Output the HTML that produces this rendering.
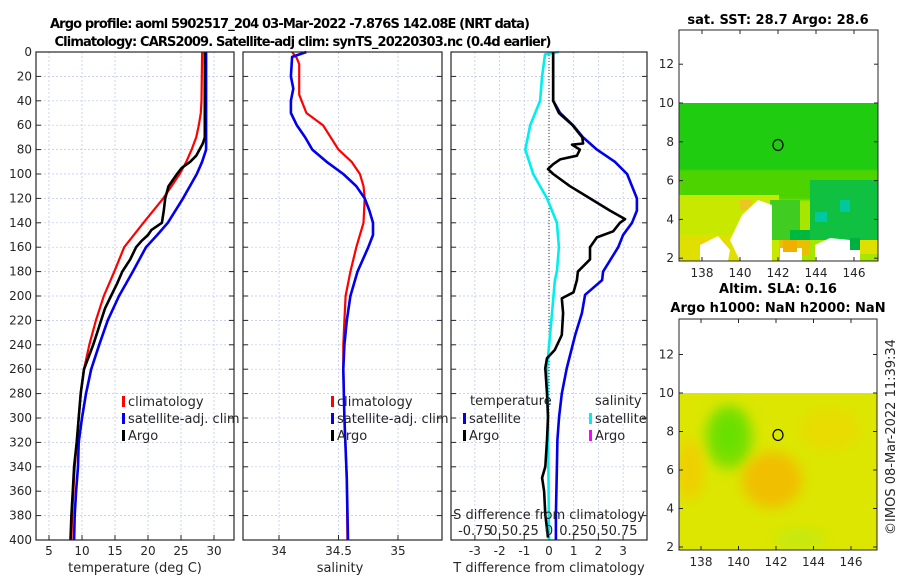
<!DOCTYPE html>
<html><head><meta charset="utf-8">
<style>
html,body{margin:0;padding:0;background:#fff;}
svg{display:block;font-family:"DejaVu Sans","Liberation Sans",sans-serif;}
.tk{font-size:12px;fill:#262626;}
.ttl{font-size:13px;font-weight:bold;fill:#000;}
.lab{font-size:13px;fill:#262626;}
</style></head>
<body>
<svg id="chart" width="900" height="580" viewBox="0 0 900 580" xmlns="http://www.w3.org/2000/svg">
<defs>
<filter id="blur4" x="-20%" y="-20%" width="140%" height="140%"><feGaussianBlur stdDeviation="6"/></filter>
<filter id="blur2"><feGaussianBlur stdDeviation="1"/></filter>
<clipPath id="clipTop"><rect x="679" y="103" width="199" height="158"/></clipPath>
<clipPath id="clipBot"><rect x="679" y="393" width="198" height="157"/></clipPath>
</defs>
<text class="ttl" x="290" y="28" text-anchor="middle" textLength="480">Argo profile: aoml 5902517_204 03-Mar-2022 -7.876S 142.08E (NRT data)</text>
<text class="ttl" x="303" y="46" text-anchor="middle" textLength="497">Climatology: CARS2009. Satellite-adj clim: synTS_20220303.nc (0.4d earlier)</text>
<g id="panels"></g>
<g id="maps">
 <!-- top SST map -->
 <g>
  <text class="ttl" x="778" y="24" text-anchor="middle">sat. SST: 28.7 Argo: 28.6</text>
  <g clip-path="url(#clipTop)">
   <rect x="679" y="103" width="199" height="158" fill="#a6e600"/>
   <rect x="679" y="103" width="199" height="80" fill="#1fcc10"/>
   <rect x="679" y="170" width="199" height="30" fill="#4ed400" filter="url(#blur2)"/>
   <rect x="679" y="195" width="100" height="66" fill="#c8e800"/>
   <rect x="679" y="235" width="60" height="26" fill="#e0e000"/>
   <rect x="810" y="180" width="68" height="60" fill="#10c040"/>
   <rect x="840" y="200" width="10" height="12" fill="#00c8a0"/>
   <rect x="815" y="212" width="12" height="10" fill="#00c8a0"/>
   <rect x="770" y="200" width="30" height="40" fill="#40cc20"/>
   <rect x="790" y="230" width="20" height="15" fill="#00b840"/>
   <rect x="780" y="240" width="30" height="15" fill="#e8c000"/>
   <rect x="700" y="240" width="25" height="18" fill="#f0d000"/>
   <rect x="740" y="200" width="12" height="10" fill="#e8c820"/>
   <polygon points="742,215 758,200 772,205 772,261 740,261 730,240" fill="#fff"/>
   <polygon points="700,245 718,236 730,250 728,261 700,261" fill="#fff"/>
   <polygon points="815,245 830,238 850,240 860,250 860,261 815,261" fill="#fff"/>
   <rect x="850" y="238" width="10" height="12" fill="#00b040"/>
   <rect x="860" y="240" width="18" height="14" fill="#e0e000"/>
   <rect x="780" y="248" width="22" height="13" fill="#fff"/>
   <rect x="783" y="240" width="14" height="12" fill="#f0b000"/>
  </g>
  <rect x="679" y="30" width="199" height="231" fill="none" stroke="#262626" stroke-width="1"/>
  <ellipse cx="778" cy="145" rx="5" ry="5.5" fill="none" stroke="#000" stroke-width="1.2"/>
  <g id="topMapTicks"></g>
 </g>
 <!-- bottom SLA map -->
 <g>
  <text class="ttl" x="778" y="293" text-anchor="middle">Altim. SLA: 0.16</text>
  <text class="ttl" x="778" y="312" text-anchor="middle">Argo h1000: NaN h2000: NaN</text>
  <g clip-path="url(#clipBot)">
   <rect x="679" y="393" width="198" height="157" fill="#dce600"/>
   <ellipse cx="729" cy="437" rx="24" ry="32" fill="#7ee000" filter="url(#blur4)"/>
   <ellipse cx="729" cy="435" rx="12" ry="18" fill="#66e000" filter="url(#blur4)"/>
   <ellipse cx="772" cy="480" rx="30" ry="28" fill="#f0c000" filter="url(#blur4)"/>
   <ellipse cx="690" cy="470" rx="14" ry="30" fill="#eed000" filter="url(#blur4)"/>
   <ellipse cx="830" cy="430" rx="30" ry="20" fill="#e8dc00" filter="url(#blur4)"/>
   <ellipse cx="800" cy="540" rx="25" ry="12" fill="#c8e810" filter="url(#blur4)"/>
  </g>
  <rect x="679" y="319" width="198" height="231" fill="none" stroke="#262626" stroke-width="1"/>
  <ellipse cx="778" cy="435" rx="5" ry="5.5" fill="none" stroke="#000" stroke-width="1.2"/>
  <g id="botMapTicks"></g>
 </g>
 <text class="lab" transform="translate(895,437) rotate(-90)" text-anchor="middle">©IMOS 08-Mar-2022 11:39:34</text>
</g>
</svg>
<script>
// ---- data ----
const tempDepth = [0,40,50,60,70,80,90,100,120,140,160,180,200,220,240,260,280,300,320,340,360,380,400];
const tempClim  = [28.2,28.1,28.0,27.7,27.3,26.6,25.8,24.8,22.3,19.3,16.4,14.9,13.3,12.1,11.1,10.3,9.8,9.5,9.2,8.9,8.7,8.5,8.4];
const tempSatDepth = [0,80,90,100,120,140,150,160,180,200,220,240,260,280,300,320,340,360,380,400];
const tempSat   = [28.8,28.8,28.2,27.4,25.3,23.0,21.4,19.7,17.7,15.6,13.9,12.6,11.4,10.6,10.0,9.5,9.4,9.1,8.9,8.8];
const argoDepth = [0,70,75,80,85,90,95,100,110,120,130,140,146,150,155,160,170,180,190,200,210,220,230,240,250,260,280,300,320,340,360,380,400];
const argoTemp  = [28.6,28.6,28.3,27.8,27.3,26.4,25.1,24.4,23.1,22.6,22.4,22.1,20.5,20.0,19.0,18.2,17.3,16.1,15.3,14.4,13.5,12.9,12.3,11.7,11.0,10.3,9.8,9.5,9.2,8.8,8.6,8.4,8.25];

const salDepth  = [0,5,10,35,40,50,60,80,90,100,110,120,140,160,180,200,220,240,260,300,350,400];
const salClim   = [34.11,34.15,34.17,34.17,34.19,34.23,34.37,34.50,34.61,34.68,34.71,34.72,34.71,34.65,34.60,34.56,34.55,34.54,34.54,34.55,34.57,34.575];
const salSatDepth = [0,4,20,30,40,50,60,70,80,90,100,110,120,130,140,150,160,180,200,220,240,260,300,350,400];
const salSat    = [34.23,34.11,34.10,34.12,34.10,34.10,34.15,34.22,34.28,34.40,34.54,34.65,34.72,34.76,34.79,34.79,34.75,34.66,34.60,34.57,34.55,34.54,34.55,34.57,34.58];

const tdSatDepth = [0,40,50,60,70,80,90,100,120,130,140,150,160,180,187,199,214,232,259,280,299,318,340,379,400];
const tdSat      = [0.17,0.17,0.45,0.97,1.38,1.94,2.67,3.16,3.56,3.56,3.36,3.0,2.8,2.19,2.15,1.46,1.33,1.06,0.72,0.52,0.41,0.34,0.32,0.28,0.28];
const tdArgoDepth = [0,40,50,60,70,75,76,80,85,88,92,96,100,110,120,130,137,140,147,152,160,170,180,187,197,202,214,232,244,251,259,280,299,318,340,349,360,379,398];
const tdArgo      = [0.17,0.17,0.4,0.95,1.35,1.38,0.93,1.25,1.13,0.45,0.17,-0.04,0.17,0.85,1.66,2.47,3.08,2.87,2.6,1.94,1.66,1.66,1.17,1.13,0.99,0.52,0.57,0.52,0.24,-0.08,-0.15,-0.08,-0.04,-0.08,-0.15,-0.28,-0.2,-0.15,-0.04];
const sdDepth = [0,2,20,40,60,80,100,120,140,160,180,187,214,259,300,400];
const sdSat   = [0.10,-0.04,-0.07,-0.09,-0.19,-0.24,-0.16,-0.02,0.08,0.10,0.08,0.06,0.03,-0.02,-0.01,0.0];

const depthTicks = [0,20,40,60,80,100,120,140,160,180,200,220,240,260,280,300,320,340,360,380,400];
const tempTicks = [5,10,15,20,25,30];
const salTicks = [34,34.5,35];
const tdTicks = [-3,-2,-1,0,1,2,3];
const sdTickLabels = ['-0.75','0.5','0.25','0','0.25','0.5','0.75'];
const sdTickVals = [-0.75,-0.5,-0.25,0,0.25,0.5,0.75];
const lonTicks = [138,140,142,144,146];
const latTicks = [2,4,6,8,10,12];

// ---- helpers ----
const NS='http://www.w3.org/2000/svg';
const root=document.getElementById('panels');
function mk(tag,attrs,parent){const e=document.createElementNS(NS,tag);for(const k in attrs)e.setAttribute(k,attrs[k]);(parent||root).appendChild(e);return e;}
const Y0=52,Y1=540;
const yD=d=>Y0+(Y1-Y0)*d/400;

function panel(name,x0,x1,xScale,xt,xtLabels,showY){
  const g=mk('g',{});
  
  
  depthTicks.forEach(d=>{
    const l=mk('line',{x1:x0,x2:x1,y1:yD(d),y2:yD(d),stroke:'#b8c4ec','stroke-width':0.7,'stroke-dasharray':'2,2'},g);
    
    
    mk('line',{x1:x0,x2:x0+5,y1:yD(d),y2:yD(d),stroke:'#262626'},g);
    mk('line',{x1:x1-5,x2:x1,y1:yD(d),y2:yD(d),stroke:'#262626'},g);
    if(showY){const t=mk('text',{x:x0-4,y:yD(d)+4,'text-anchor':'end',class:'tk'},g);t.textContent=d;
      
      }
  });
  xt.forEach((v,i)=>{
    const x=xScale(v);
    const l=mk('line',{x1:x,x2:x,y1:Y0,y2:Y1,stroke:'#b8c4ec','stroke-width':0.7,'stroke-dasharray':'2,2'},g);
    
    
    mk('line',{x1:x,x2:x,y1:Y1-5,y2:Y1,stroke:'#262626'},g);
    const t=mk('text',{x:x,y:555,'text-anchor':'middle',class:'tk'},g);t.textContent=xtLabels[i];
    
    
  });
  return g;
}
function frame(x0,x1,g){mk('rect',{x:x0,y:Y0,width:x1-x0,height:Y1-Y0,fill:'none',stroke:'#262626','stroke-width':1.2},g);}
function line(g,xs,ds,xScale,color,w,name){
  const p=xs.map((v,i)=>(i?'L':'M')+xScale(v).toFixed(1)+','+yD(ds[i]).toFixed(1)).join('');
  const e=mk('path',{d:p,fill:'none',stroke:color,'stroke-width':w,'stroke-linejoin':'round'},g);
  
  
}
function legend(g,x,y,items){
  items.forEach((it,i)=>{
    mk('rect',{x:x,y:y+i*17-9,width:3,height:11,fill:it[1]},g);
    const t=mk('text',{x:x+6,y:y+i*17+1,class:'lab'},g);t.textContent=it[0];
    
    
  });
}

// Panel 1 temperature
const xT=t=>49+(t-5)*6.6;
const g1=panel('temperature-panel',36,234,xT,tempTicks,tempTicks,true);
line(g1,tempClim,tempDepth,xT,'#ff0000',2.2,'temp-climatology-line');
line(g1,tempSat,tempSatDepth,xT,'#0000ee',2.6,'temp-satellite-line');
line(g1,argoTemp,argoDepth,xT,'#000',2.6,'temp-argo-line');
frame(36,234,g1);
legend(g1,122,405,[['climatology','#ff0000'],['satellite-adj. clim','#0000ee'],['Argo','#000']]);
{const t=mk('text',{x:135,y:572,'text-anchor':'middle',class:'lab'},g1);t.textContent='temperature (deg C)';
 
 }

// Panel 2 salinity
const xS=s=>279+(s-34)*119;
const g2=panel('salinity-panel',243,442,xS,salTicks,salTicks,false);
line(g2,salClim,salDepth,xS,'#ff0000',2.2,'sal-climatology-line');
line(g2,salSat,salSatDepth,xS,'#0000ee',2.6,'sal-satellite-line');
frame(243,442,g2);
legend(g2,331,405,[['climatology','#ff0000'],['satellite-adj. clim','#0000ee'],['Argo','#000']]);
{const t=mk('text',{x:340,y:572,'text-anchor':'middle',class:'lab'},g2);t.textContent='salinity';
 
 }

// Panel 3 differences
const xD=d=>549+d*24.7;
const xSD=s=>xD(s*4);
const g3=panel('difference-panel',451,647,xD,tdTicks,tdTicks,false);
mk('line',{x1:549,x2:549,y1:Y0,y2:Y1,stroke:'#333','stroke-width':1,'stroke-dasharray':'1,2'},g3);
line(g3,sdSat,sdDepth,xSD,'#00eeee',2.6,'sal-diff-satellite-line');
line(g3,tdSat,tdSatDepth,xD,'#0000ee',2.6,'temp-diff-satellite-line');
line(g3,tdArgo,tdArgoDepth,xD,'#000',2.6,'temp-diff-argo-line');
frame(451,647,g3);
{const t=mk('text',{x:470,y:405,class:'lab'},g3);t.textContent='temperature';
 
 }
{const t=mk('text',{x:595,y:405,class:'lab'},g3);t.textContent='salinity';
 
 }
legend(g3,463,422,[['satellite','#0000ee'],['Argo','#000']]);
legend(g3,589,422,[['satellite','#00eeee'],['Argo','#ff00ff']]);
{const t=mk('text',{x:549,y:519,'text-anchor':'middle',class:'lab'},g3);t.textContent='S difference from climatology';
 
 }
sdTickVals.forEach((v,i)=>{const t=mk('text',{x:xSD(v),y:535,'text-anchor':'middle',class:'lab'},g3);t.textContent=sdTickLabels[i];
 
 });
{const t=mk('text',{x:549,y:572,'text-anchor':'middle',class:'lab'},g3);t.textContent='T difference from climatology';
 
 }

// Map ticks
function mapTicks(id,x0,x1,yTop,yBot,lon2x,lat2y){
  const g=document.getElementById(id);
  lonTicks.forEach(l=>{const x=lon2x(l);
    mk('line',{x1:x,x2:x,y1:yBot-4,y2:yBot,stroke:'#262626'},g);
    mk('line',{x1:x,x2:x,y1:yTop,y2:yTop+4,stroke:'#262626'},g);
    const t=mk('text',{x:x,y:yBot+16,'text-anchor':'middle',class:'tk'},g);t.textContent=l;
    
    });
  latTicks.forEach(l=>{const y=lat2y(l);
    mk('line',{x1:x0,x2:x0+4,y1:y,y2:y,stroke:'#262626'},g);
    mk('line',{x1:x1-4,x2:x1,y1:y,y2:y,stroke:'#262626'},g);
    const t=mk('text',{x:x0-5,y:y+4,'text-anchor':'end',class:'tk'},g);t.textContent=l;
    
    });
}
mapTicks('topMapTicks',679,878,30,261,l=>702+(l-138)*19,l=>103+(10-l)*19.4);
mapTicks('botMapTicks',679,877,319,550,l=>701+(l-138)*18.75,l=>393+(10-l)*19.25);
</script>
</body></html>
